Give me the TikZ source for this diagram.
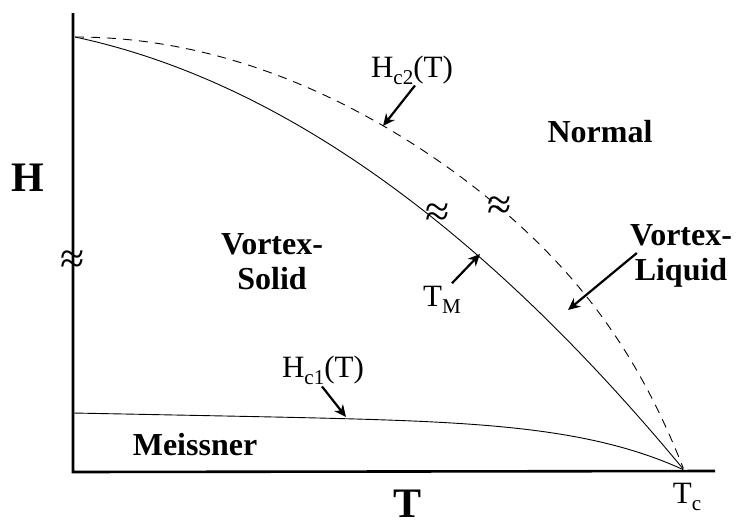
\documentclass[tikz,border=0pt]{standalone}
\usepackage{fontspec}
\setmainfont{Liberation Serif}
\usepackage{tikz}
\usetikzlibrary{arrows,arrows.meta,positioning,calc}

\newcommand{\lowsub}[1]{\raisebox{-0.22em}{\scalebox{0.68}{#1}}}

\begin{document}
\begin{tikzpicture}[x=1pt,y=-1pt,
  region/.style={font=\fontsize{32}{35}\selectfont\bfseries, align=center, inner sep=0pt},
  lbl/.style={font=\fontsize{31}{31}\selectfont, inner sep=0pt},
  axislbl/.style={font=\fontsize{42}{42}\selectfont\bfseries, inner sep=0pt},
  ptr/.style={line width=2.2pt, -{Stealth[length=12pt,width=11pt]}},
  brk/.style={font=\fontsize{44}{44}\selectfont, inner sep=0pt},
  curve/.style={line width=0.9pt}]
\useasboundingbox (0,0) rectangle (738,530);
% axes
\draw[line width=2.6pt] (73,13) -- (73,472) -- (715,471);
% H_c2 (dashed)
\draw[curve, dash pattern=on 9pt off 7pt] plot[domain=0:1, samples=120, smooth]
  ({75+609*\x},{470-433*(1-0.8*\x^2-0.2*\x^10)});
% melting line T_M
\draw[curve] plot[domain=0:1, samples=120, smooth]
  ({75+609*\x},{470-433*(1-0.3*\x-0.7*\x^2)});
% H_c1
\draw[curve] plot[domain=0:1, samples=120, smooth]
  ({73+611*\x},{413+12*\x+45*\x^6});
% break marks
\node[brk] (brkAxis) at (73,262) {≈};
\node[brk] (brkSolid) at (438,215) {≈};
\node[brk] (brkDash) at (500,208) {≈};
% axis labels
\node[axislbl] (hlab) at (28,178) {H};
\node[axislbl] (tlab) at (408,504) {T};
\node[lbl] (tc) at (687,497) {T\lowsub{c}};
% regions
\node[region] (normal) at (600,132) {Normal};
\node[region] (vsolid) at (272,262) {Vortex-\\Solid};
\node[region] (vliquid) at (681,256) {Vortex-\\Liquid};
\node[region] (meissner) at (195,445) {Meissner};
% curve labels
\node[lbl] (hctwo) at (412,70) {H\lowsub{c2}(T)};
\node[lbl] (tm) at (442,300) {T\lowsub{M}};
\node[lbl] (hcone) at (323,370) {H\lowsub{c1}(T)};
% arrow ends
\coordinate (hctwoTip) at (383,126);
\coordinate (tmTip) at (480,254);
\coordinate (hconeTip) at (346,417);
\coordinate (liqTip) at (568,310);
\draw[ptr] ($(hctwo.south)+(3,1)$) -- (hctwoTip);
\draw[ptr] ($(tm.north)+(10,-3)$) -- (tmTip);
\draw[ptr] ($(hcone.south)+(-1,2)$) -- (hconeTip);
\draw[ptr] ($(vliquid.west)+(7,-3)$) -- (liqTip);
\end{tikzpicture}
\end{document}
